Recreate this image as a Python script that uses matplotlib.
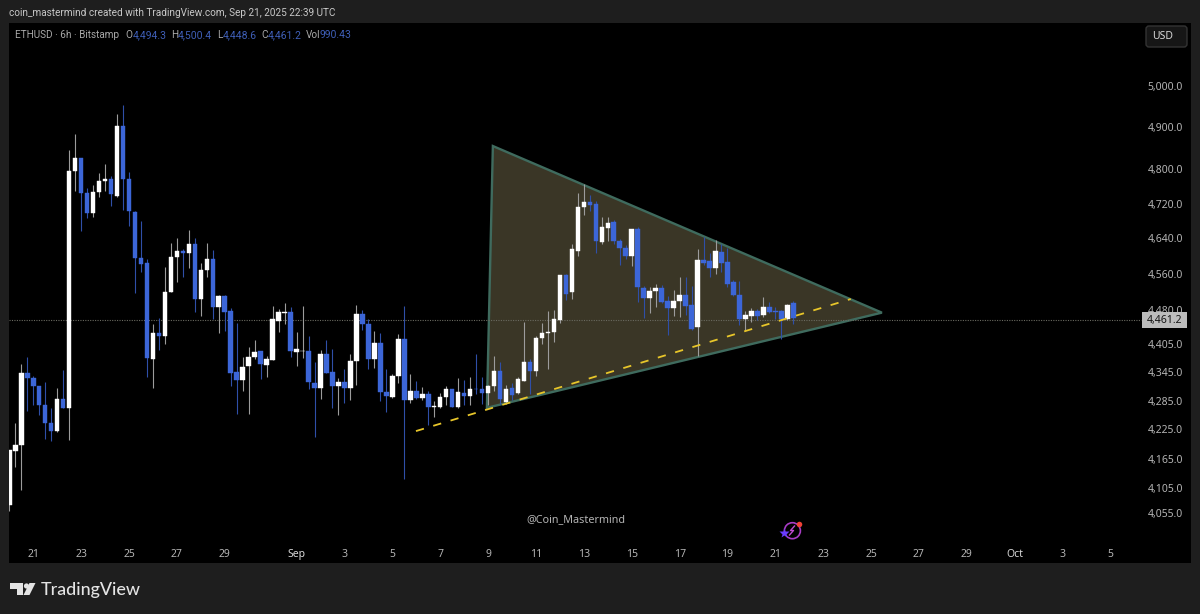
import matplotlib
matplotlib.use("Agg")
import matplotlib.pyplot as plt
import numpy as np
from matplotlib.patches import Polygon, Rectangle, FancyBboxPatch, Circle

# 6h candles, first one is Aug 20 00:00
opens = [4071, 4180, 4192, 4343, 4333, 4316, 4276, 4239, 4221, 4288,
         4269, 4795, 4827, 4744, 4699, 4746, 4773, 4778, 4738, 4902,
         4778, 4701, 4595, 4584, 4374, 4430, 4424, 4519, 4598, 4611,
         4606, 4628, 4504, 4568, 4593, 4487, 4510, 4478, 4345, 4329,
         4358, 4378, 4391, 4360, 4371, 4456, 4474, 4475, 4389, 4390,
         4391, 4322, 4311, 4385, 4346, 4316, 4325, 4311, 4370, 4471,
         4450, 4374, 4407, 4303, 4293, 4337, 4417, 4287, 4305, 4290,
         4298, 4271, 4271, 4292, 4309, 4271, 4302, 4294, 4310, 4310,
         4302, 4316, 4347, 4283, 4312, 4301, 4327, 4367, 4347, 4418,
         4429, 4431, 4457, 4557, 4519, 4612, 4712, 4723, 4718, 4631,
         4664, 4677, 4634, 4619, 4601, 4661, 4528, 4506, 4522, 4529,
         4500, 4485, 4499, 4514, 4491, 4443, 4590, 4588, 4574, 4610,
         4586, 4541, 4513, 4459, 4467, 4478, 4468, 4486, 4478, 4478,
         4459, 4494.3]
highs = [4182, 4239, 4362, 4378, 4337, 4316, 4324, 4270, 4312, 4350,
         4845, 4883, 4827, 4756, 4763, 4792, 4812, 4784, 4932, 4954,
         4794, 4702, 4680, 4593, 4449, 4462, 4576, 4630, 4641, 4617,
         4660, 4641, 4585, 4630, 4613, 4513, 4513, 4484, 4451, 4378,
         4400, 4414, 4391, 4379, 4489, 4482, 4495, 4487, 4431, 4489,
         4422, 4367, 4393, 4414, 4396, 4333, 4353, 4384, 4490, 4480,
         4460, 4434, 4429, 4352, 4341, 4428, 4489, 4341, 4327, 4314,
         4305, 4285, 4301, 4315, 4310, 4333, 4329, 4335, 4384, 4334,
         4319, 4380, 4367, 4317, 4323, 4334, 4453, 4373, 4423, 4452,
         4478, 4480, 4557, 4560, 4627, 4745, 4766, 4739, 4727, 4689,
         4690, 4681, 4639, 4624, 4661, 4667, 4532, 4530, 4538, 4536,
         4511, 4524, 4552, 4554, 4533, 4616, 4643, 4606, 4636, 4627,
         4619, 4547, 4545, 4478, 4484, 4482, 4508, 4498, 4487, 4480,
         4493, 4500.4]
lows = [4060, 4147, 4102, 4263, 4275, 4255, 4206, 4202, 4219, 4269,
        4204, 4749, 4657, 4687, 4689, 4735, 4749, 4715, 4734, 4704,
        4669, 4517, 4564, 4334, 4312, 4393, 4405, 4519, 4541, 4553,
        4574, 4476, 4467, 4553, 4459, 4429, 4434, 4316, 4258, 4305,
        4257, 4373, 4331, 4335, 4371, 4431, 4450, 4377, 4359, 4375,
        4310, 4210, 4289, 4344, 4270, 4255, 4280, 4286, 4319, 4436,
        4352, 4355, 4284, 4262, 4290, 4322, 4123, 4281, 4289, 4286,
        4235, 4251, 4269, 4275, 4271, 4270, 4276, 4276, 4298, 4279,
        4276, 4305, 4279, 4277, 4287, 4299, 4326, 4300, 4337, 4405,
        4352, 4409, 4452, 4502, 4504, 4601, 4693, 4702, 4606, 4627,
        4634, 4627, 4579, 4593, 4578, 4498, 4462, 4473, 4487, 4495,
        4425, 4466, 4464, 4469, 4437, 4379, 4579, 4553, 4560, 4565,
        4530, 4511, 4446, 4437, 4453, 4457, 4464, 4473, 4459, 4416,
        4457, 4448.6]
closes = [4182, 4192, 4344, 4332, 4316, 4276, 4239, 4221, 4288, 4269,
          4795, 4827, 4745, 4697, 4746, 4773, 4778, 4743, 4902, 4777,
          4702, 4596, 4583, 4375, 4430, 4423, 4520, 4598, 4611, 4606,
          4628, 4504, 4568, 4593, 4487, 4510, 4476, 4344, 4329, 4357,
          4377, 4389, 4362, 4373, 4459, 4475, 4476, 4390, 4394, 4391,
          4324, 4311, 4385, 4344, 4316, 4325, 4311, 4370, 4471, 4450,
          4373, 4407, 4303, 4294, 4338, 4417, 4286, 4305, 4291, 4298,
          4271, 4273, 4293, 4310, 4271, 4304, 4294, 4309, 4309, 4302,
          4316, 4347, 4288, 4309, 4296, 4330, 4366, 4347, 4418, 4430,
          4432, 4459, 4557, 4516, 4615, 4712, 4723, 4717, 4633, 4666,
          4676, 4634, 4618, 4600, 4661, 4530, 4506, 4522, 4528, 4498,
          4484, 4499, 4514, 4489, 4439, 4590, 4585, 4574, 4611, 4585,
          4538, 4513, 4459, 4468, 4478, 4467, 4486, 4476, 4476, 4459,
          4491, 4461.2]

price_ticks = [5000, 4900, 4800, 4720, 4640, 4560, 4480, 4405, 4345, 4285, 4225, 4165, 4105, 4055]
date_ticks = [4, 12, 20, 28, 36, 48, 56, 64, 72, 80, 88, 96, 104, 112, 120, 128, 136, 144, 152, 160, 168, 176, 184]
date_labels = ['21', '23', '25', '27', '29', 'Sep', '3', '5', '7', '9', '11', '13', '15',
               '17', '19', '21', '23', '25', '27', '29', 'Oct', '3', '5']

# where the dotted last price line sits on the picture
price_line = 4458.5

# drawings on the chart (candle index, price)
triangle_x = [80.8, 145.8, 79.8]
triangle_y = [4855, 4474, 4270]
trend_x = [67.95, 140.6]
trend_y = [4221.5, 4504]

W, H = 1200, 614
FONT = 'Noto Sans'
GREY = '#b4b4b4'
BLUE = '#3c66d8'
plt.rcParams['font.family'] = FONT

fig = plt.figure(figsize=(W / 100, H / 100), dpi=100, facecolor='#1e1e1e')
ax = fig.add_axes([9 / W, 1 - 563 / H, (1191 - 9) / W, (563 - 23) / H], facecolor='black')
ax.set_yscale('log')
ax.set_xlim(-0.05, 197.45)
ax.set_ylim(3957, 5157)

x = np.arange(len(opens))
o = np.array(opens)
c = np.array(closes)
up = c >= o

ax.add_patch(Polygon(np.column_stack([triangle_x, triangle_y]), closed=True, facecolor='#3a3626',
                     edgecolor='#3f6b5e', linewidth=1.7, zorder=1))
ax.axhline(price_line, xmin=0, xmax=(1141 - 9) / (1191 - 9), color='#6a6a60', linewidth=0.8,
           linestyle=(0, (1, 1.2)), zorder=1.5)

ax.vlines(x[up], np.array(lows)[up], np.array(highs)[up], color='#9c9c9c', linewidth=0.8, zorder=2)
ax.vlines(x[~up], np.array(lows)[~up], np.array(highs)[~up], color='#2f4fa8', linewidth=0.8, zorder=2)
ax.bar(x[up], (c - o)[up], bottom=o[up], width=0.76, color='white', edgecolor='white', linewidth=0.3, zorder=3)
ax.bar(x[~up], (c - o)[~up], bottom=o[~up], width=0.76, color=BLUE, edgecolor=BLUE, linewidth=0.3, zorder=3)

ax.plot(trend_x, trend_y, color='#e8c62a', linewidth=1.3, linestyle=(0, (4.6, 5.4)), zorder=4)

for s in ax.spines.values():
    s.set_visible(False)
ax.yaxis.tick_right()
ax.set_yticks(price_ticks)
ax.set_yticks([], minor=True)
ax.set_yticklabels(['{:,.1f}'.format(p) for p in price_ticks], ha='right', color=GREY, fontsize=7.5)
ax.tick_params(axis='y', length=0, pad=-5.8)
ax.set_xticks(date_ticks)
ax.set_xticklabels(date_labels, color=GREY, fontsize=7.5)
ax.tick_params(axis='x', length=0, pad=-9.9)
for t in ax.get_xticklabels():
    if t.get_text() in ('Sep', 'Oct'):
        t.set_color('#d8d8d8')
        t.set_fontweight('bold')

# overlay in pixel coordinates for the header and widgets
ov = fig.add_axes([0, 0, 1, 1], facecolor='none')
ov.set_xlim(0, W)
ov.set_ylim(H, 0)
ov.axis('off')

ov.text(9, 13.5, 'coin_mastermind created with TradingView.com, Sep 21, 2025 22:39 UTC',
        color='#c8c8c8', fontsize=7.2, va='center', family='Roboto')
ov.text(15, 35.5, 'ETHUSD · 6h · Bitstamp', color='#a8a8a8', fontsize=7.2, va='center', family='Roboto')
legend_names = ['O', 'H', 'L', 'C', 'Vol']
legend_name_x = [125, 171, 217, 261, 306]
legend_vals = ['4,494.3', '4,500.4', '4,448.6', '4,461.2', '990.43']
legend_val_x = [132.5, 178, 222.5, 268, 320]
for name, nx, val, vx in zip(legend_names, legend_name_x, legend_vals, legend_val_x):
    ov.text(nx, 35.5, name, color='#a8a8a8', fontsize=7.2, va='center', family='Roboto')
    ov.text(vx, 35.5, val, color='#3f5fb8', fontsize=7.5, va='center', family='Roboto')

ov.add_patch(FancyBboxPatch((1146, 26), 41, 21, boxstyle='round,pad=0,rounding_size=3',
                            facecolor='#161616', edgecolor='#333333', linewidth=1))
ov.text(1152, 36.5, 'USD', color='#d8d8d8', fontsize=7.5, va='center')

ov.add_patch(Rectangle((1142, 312), 45, 16, facecolor='#bcbcbc', edgecolor='none'))
ov.text(1164.5, 320, '4,461.2', color='#151515', fontsize=7.5, va='center', ha='center')

ov.text(526, 519.5, '@Coin_Mastermind', color=GREY, fontsize=7.8, va='center')

# status icon
ov.add_patch(Circle((792.4, 530.7), 8, facecolor='none', edgecolor='#a83cc4', linewidth=1.2))
ov.plot([794.5, 790.5, 793.5, 789.5], [526, 530.5, 530.5, 535], color='#c04ad0', linewidth=1)
ov.plot([783.7], [533.3], marker='*', markersize=7, color='#6a3cff', markeredgecolor='none')
ov.plot([798.7], [524], marker='o', markersize=4, color='#ef4136', markeredgecolor='none')

# TradingView logo
logo = '#e4e4e4'
ov.add_patch(Polygon([(10, 583), (23, 583), (23, 595), (17, 595), (17, 588.5), (10, 588.5)], facecolor=logo))
ov.add_patch(Circle((26.5, 586), 2.6, facecolor=logo))
ov.add_patch(Polygon([(29.5, 583), (35.5, 583), (29.5, 595), (23.5, 595)], facecolor=logo))
ov.text(40.5, 589.5, 'TradingView', color=logo, fontsize=12.9, va='center', family='Lato', fontweight='medium')

fig.savefig('out.png', dpi=100, facecolor=fig.get_facecolor())
